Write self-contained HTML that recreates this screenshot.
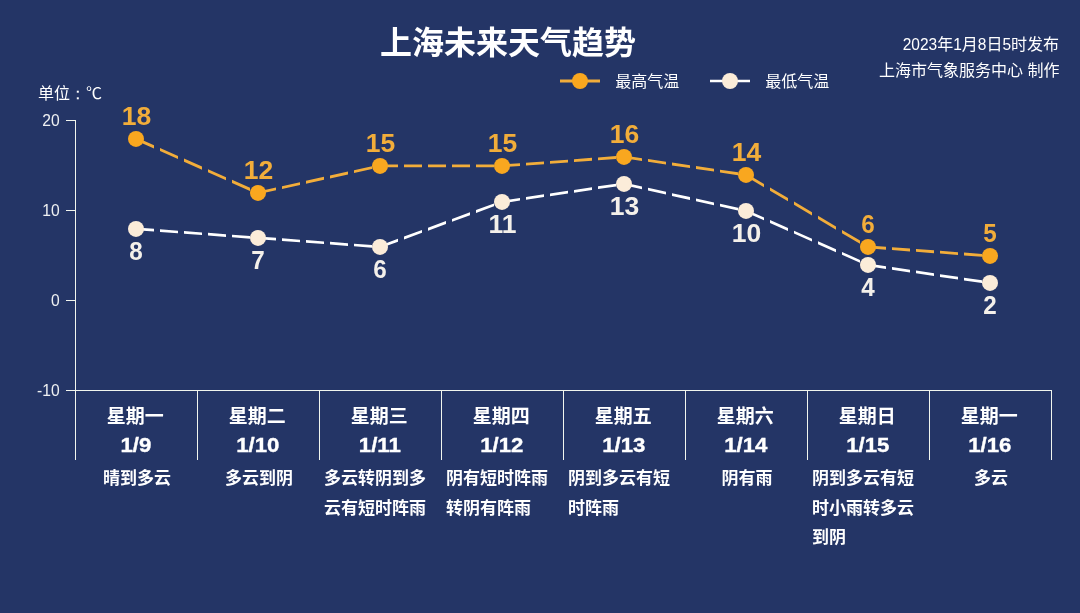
<!DOCTYPE html>
<html lang="zh-CN">
<head>
<meta charset="utf-8">
<title>上海未来天气趋势</title>
<style>
html,body{margin:0;padding:0;background:#243566;}
body{width:1080px;height:613px;overflow:hidden;font-family:"Liberation Sans",sans-serif;}
svg{display:block;will-change:transform;}
svg text{font-family:"Liberation Sans","Noto Sans CJK SC",sans-serif;}
</style>
</head>
<body>
<svg width="1080" height="613" viewBox="0 0 1080 613">
<rect width="1080" height="613" fill="#243566"/>
<g stroke="#f1f5ee" stroke-width="1" fill="none" shape-rendering="crispEdges">
<line x1="75.5" y1="120" x2="75.5" y2="460"/>
<line x1="66" y1="120.5" x2="76.0" y2="120.5"/>
<line x1="66" y1="210.5" x2="76.0" y2="210.5"/>
<line x1="66" y1="300.5" x2="76.0" y2="300.5"/>
<line x1="66" y1="390.5" x2="1052" y2="390.5"/>
<line x1="197.5" y1="390.5" x2="197.5" y2="460"/>
<line x1="319.5" y1="390.5" x2="319.5" y2="460"/>
<line x1="441.5" y1="390.5" x2="441.5" y2="460"/>
<line x1="563.5" y1="390.5" x2="563.5" y2="460"/>
<line x1="685.5" y1="390.5" x2="685.5" y2="460"/>
<line x1="807.5" y1="390.5" x2="807.5" y2="460"/>
<line x1="929.5" y1="390.5" x2="929.5" y2="460"/>
<line x1="1051.5" y1="390.5" x2="1051.5" y2="460"/>
</g>
<text transform="translate(59.60 126.10) scale(0.95 1)" font-size="16.5" fill="#eef0f2" text-anchor="end" font-weight="normal">20</text>
<text transform="translate(59.60 216.10) scale(0.95 1)" font-size="16.5" fill="#eef0f2" text-anchor="end" font-weight="normal">10</text>
<text transform="translate(59.60 306.10) scale(0.95 1)" font-size="16.5" fill="#eef0f2" text-anchor="end" font-weight="normal">0</text>
<text transform="translate(59.60 396.10) scale(0.95 1)" font-size="16.5" fill="#eef0f2" text-anchor="end" font-weight="normal">-10</text>
<path fill="#ffffff" d="M136.0 227.55L154.0 228.87L154.0 231.58L136.0 230.25ZM160.0 229.32L178.0 230.64L178.0 233.35L160.0 232.02ZM184.0 231.09L202.0 232.42L202.0 235.12L184.0 233.79ZM208.0 232.86L226.0 234.19L226.0 236.89L208.0 235.57ZM232.0 234.63L250.0 235.96L250.0 238.66L232.0 237.34ZM256.0 236.40L258.0 236.55L258.0 239.25L256.0 239.11ZM258.0 236.55L276.0 237.87L276.0 240.58L258.0 239.25ZM282.0 238.32L300.0 239.64L300.0 242.35L282.0 241.02ZM306.0 240.09L324.0 241.42L324.0 244.12L306.0 242.79ZM330.0 241.86L348.0 243.19L348.0 245.89L330.0 244.57ZM354.0 243.63L372.0 244.96L372.0 247.66L354.0 246.34ZM378.0 245.40L380.0 245.55L380.0 248.25L378.0 248.11ZM380.0 245.46L398.0 238.82L398.0 241.70L380.0 248.34ZM404.0 236.61L422.0 229.97L422.0 232.85L404.0 239.49ZM428.0 227.76L446.0 221.12L446.0 223.99L428.0 230.63ZM452.0 218.90L470.0 212.26L470.0 215.14L452.0 221.78ZM476.0 210.05L494.0 203.41L494.0 206.29L476.0 212.93ZM500.0 201.20L502.0 200.46L502.0 203.34L500.0 204.08ZM502.0 200.54L520.0 197.88L520.0 200.61L502.0 203.26ZM526.0 196.99L544.0 194.34L544.0 197.07L526.0 199.72ZM550.0 193.45L568.0 190.80L568.0 193.53L550.0 196.18ZM574.0 189.91L592.0 187.26L592.0 189.99L574.0 192.64ZM598.0 186.37L616.0 183.72L616.0 186.44L598.0 189.10ZM622.0 182.83L624.0 182.54L624.0 185.26L622.0 185.56ZM624.0 182.52L642.0 186.50L642.0 189.27L624.0 185.28ZM648.0 187.83L666.0 191.81L666.0 194.58L648.0 190.59ZM672.0 193.14L690.0 197.12L690.0 199.89L672.0 195.91ZM696.0 198.45L714.0 202.44L714.0 205.20L696.0 201.22ZM720.0 203.76L738.0 207.75L738.0 210.51L720.0 206.53ZM744.0 209.07L746.0 209.52L746.0 212.28L744.0 211.84ZM746.0 209.42L764.0 217.39L764.0 220.34L746.0 212.38ZM770.0 220.05L788.0 228.01L788.0 230.97L770.0 223.00ZM794.0 230.67L812.0 238.64L812.0 241.59L794.0 233.62ZM818.0 241.29L836.0 249.26L836.0 252.21L818.0 244.25ZM842.0 251.92L860.0 259.88L860.0 262.84L842.0 254.87ZM866.0 262.54L868.0 263.42L868.0 266.38L866.0 265.49ZM868.0 263.54L886.0 266.19L886.0 268.92L868.0 266.26ZM892.0 267.08L910.0 269.73L910.0 272.46L892.0 269.81ZM916.0 270.62L934.0 273.27L934.0 276.00L916.0 273.35ZM940.0 274.16L958.0 276.81L958.0 279.54L940.0 276.89ZM964.0 277.70L982.0 280.36L982.0 283.08L964.0 280.43ZM988.0 281.24L990.0 281.54L990.0 284.26L988.0 283.97Z"/>
<path fill="#f2ad3a" d="M136.0 137.37L154.0 145.34L154.0 148.40L136.0 140.43ZM160.0 147.99L178.0 155.96L178.0 159.02L160.0 151.05ZM184.0 158.61L202.0 166.58L202.0 169.64L184.0 161.68ZM208.0 169.24L226.0 177.21L226.0 180.27L208.0 172.30ZM232.0 179.86L250.0 187.83L250.0 190.89L232.0 182.92ZM256.0 190.48L258.0 191.37L258.0 194.43L256.0 193.55ZM258.0 191.47L276.0 187.48L276.0 190.35L258.0 194.33ZM282.0 186.15L300.0 182.17L300.0 185.04L282.0 189.02ZM306.0 180.84L324.0 176.86L324.0 179.73L306.0 183.71ZM330.0 175.53L348.0 171.55L348.0 174.42L330.0 178.40ZM354.0 170.22L372.0 166.24L372.0 169.10L354.0 173.09ZM378.0 164.91L380.0 164.47L380.0 167.33L378.0 167.78ZM380.0 164.50L398.0 164.50L398.0 167.30L380.0 167.30ZM404.0 164.50L422.0 164.50L422.0 167.30L404.0 167.30ZM428.0 164.50L446.0 164.50L446.0 167.30L428.0 167.30ZM452.0 164.50L470.0 164.50L470.0 167.30L452.0 167.30ZM476.0 164.50L494.0 164.50L494.0 167.30L476.0 167.30ZM500.0 164.50L502.0 164.50L502.0 167.30L500.0 167.30ZM502.0 164.50L520.0 163.17L520.0 165.98L502.0 167.30ZM526.0 162.73L544.0 161.40L544.0 164.21L526.0 165.53ZM550.0 160.96L568.0 159.63L568.0 162.43L550.0 163.76ZM574.0 159.18L592.0 157.86L592.0 160.66L574.0 161.99ZM598.0 157.41L616.0 156.09L616.0 158.89L598.0 160.22ZM622.0 155.64L624.0 155.50L624.0 158.30L622.0 158.45ZM624.0 155.48L642.0 158.14L642.0 160.97L624.0 158.32ZM648.0 159.03L666.0 161.68L666.0 164.51L648.0 161.86ZM672.0 162.57L690.0 165.22L690.0 168.05L672.0 165.40ZM696.0 166.11L714.0 168.76L714.0 171.59L696.0 168.94ZM720.0 169.65L738.0 172.30L738.0 175.13L720.0 172.48ZM744.0 173.19L746.0 173.48L746.0 176.32L744.0 176.02ZM746.0 173.27L764.0 183.90L764.0 187.15L746.0 176.53ZM770.0 187.44L788.0 198.06L788.0 201.31L770.0 190.69ZM794.0 201.60L812.0 212.23L812.0 215.48L794.0 204.85ZM818.0 215.77L836.0 226.39L836.0 229.64L818.0 219.02ZM842.0 229.93L860.0 240.55L860.0 243.80L842.0 233.18ZM866.0 244.09L868.0 245.27L868.0 248.53L866.0 247.35ZM868.0 245.50L886.0 246.82L886.0 249.63L868.0 248.30ZM892.0 247.27L910.0 248.59L910.0 251.40L892.0 250.07ZM916.0 249.04L934.0 250.37L934.0 253.17L916.0 251.84ZM940.0 250.81L958.0 252.14L958.0 254.94L940.0 253.62ZM964.0 252.58L982.0 253.91L982.0 256.71L964.0 255.39ZM988.0 254.35L990.0 254.50L990.0 257.30L988.0 257.16Z"/>
<g fill="#fbecd9"><circle cx="136.0" cy="228.89999999999998" r="8"/><circle cx="258.0" cy="237.89999999999998" r="8"/><circle cx="380.0" cy="246.89999999999998" r="8"/><circle cx="502.0" cy="201.89999999999998" r="8"/><circle cx="624.0" cy="183.89999999999998" r="8"/><circle cx="746.0" cy="210.89999999999998" r="8"/><circle cx="868.0" cy="264.9" r="8"/><circle cx="990.0" cy="282.9" r="8"/></g>
<g fill="#f9a71f"><circle cx="136.0" cy="138.89999999999998" r="8"/><circle cx="258.0" cy="192.89999999999998" r="8"/><circle cx="380.0" cy="165.89999999999998" r="8"/><circle cx="502.0" cy="165.89999999999998" r="8"/><circle cx="624.0" cy="156.89999999999998" r="8"/><circle cx="746.0" cy="174.89999999999998" r="8"/><circle cx="868.0" cy="246.89999999999998" r="8"/><circle cx="990.0" cy="255.89999999999998" r="8"/></g>
<text transform="translate(136.40 125.00) scale(1.06 1)" font-size="25" fill="#f2ad3a" text-anchor="middle" font-weight="bold">18</text>
<text transform="translate(258.40 179.00) scale(1.06 1)" font-size="25" fill="#f2ad3a" text-anchor="middle" font-weight="bold">12</text>
<text transform="translate(380.40 152.00) scale(1.06 1)" font-size="25" fill="#f2ad3a" text-anchor="middle" font-weight="bold">15</text>
<text transform="translate(502.40 152.00) scale(1.06 1)" font-size="25" fill="#f2ad3a" text-anchor="middle" font-weight="bold">15</text>
<text transform="translate(624.40 143.00) scale(1.06 1)" font-size="25" fill="#f2ad3a" text-anchor="middle" font-weight="bold">16</text>
<text transform="translate(746.40 161.00) scale(1.06 1)" font-size="25" fill="#f2ad3a" text-anchor="middle" font-weight="bold">14</text>
<text transform="translate(868.00 233.00) scale(0.97 1)" font-size="25" fill="#f2ad3a" text-anchor="middle" font-weight="bold">6</text>
<text transform="translate(990.00 242.00) scale(0.97 1)" font-size="25" fill="#f2ad3a" text-anchor="middle" font-weight="bold">5</text>
<text transform="translate(136.00 260.00) scale(0.97 1)" font-size="25" fill="#f4f0ea" text-anchor="middle" font-weight="bold">8</text>
<text transform="translate(258.00 269.00) scale(0.97 1)" font-size="25" fill="#f4f0ea" text-anchor="middle" font-weight="bold">7</text>
<text transform="translate(380.00 278.00) scale(0.97 1)" font-size="25" fill="#f4f0ea" text-anchor="middle" font-weight="bold">6</text>
<text transform="translate(502.40 233.00) scale(1.06 1)" font-size="25" fill="#f4f0ea" text-anchor="middle" font-weight="bold">11</text>
<text transform="translate(624.40 215.00) scale(1.06 1)" font-size="25" fill="#f4f0ea" text-anchor="middle" font-weight="bold">13</text>
<text transform="translate(746.40 242.00) scale(1.06 1)" font-size="25" fill="#f4f0ea" text-anchor="middle" font-weight="bold">10</text>
<text transform="translate(868.00 296.00) scale(0.97 1)" font-size="25" fill="#f4f0ea" text-anchor="middle" font-weight="bold">4</text>
<text transform="translate(990.00 314.00) scale(0.97 1)" font-size="25" fill="#f4f0ea" text-anchor="middle" font-weight="bold">2</text>
<text x="508" y="53.7" font-size="32" fill="#fff" text-anchor="middle" font-weight="bold">上海未来天气趋势</text>
<line x1="560" y1="81" x2="600" y2="81" stroke="#f2ad3a" stroke-width="2.8"/><circle cx="580" cy="81" r="8" fill="#f9a71f"/>
<line x1="710" y1="81" x2="750" y2="81" stroke="#ffffff" stroke-width="2.7"/><circle cx="730" cy="81" r="8" fill="#fbecd9"/>
<text x="615.3" y="87.1" font-size="16" fill="#fff" text-anchor="start">最高气温</text>
<text x="765.3" y="87.1" font-size="16" fill="#fff" text-anchor="start">最低气温</text>
<text transform="translate(902.66 50.10) scale(0.94 1)" font-size="16.5" fill="#fff" text-anchor="start" font-weight="normal">2023</text>
<text x="937.14" y="50.1" font-size="16" fill="#fff" text-anchor="start">年</text>
<text transform="translate(953.14 50.10) scale(0.94 1)" font-size="16.5" fill="#fff" text-anchor="start" font-weight="normal">1</text>
<text x="961.76" y="50.1" font-size="16" fill="#fff" text-anchor="start">月</text>
<text transform="translate(977.76 50.10) scale(0.94 1)" font-size="16.5" fill="#fff" text-anchor="start" font-weight="normal">8</text>
<text x="986.38" y="50.1" font-size="16" fill="#fff" text-anchor="start">日</text>
<text transform="translate(1002.38 50.10) scale(0.94 1)" font-size="16.5" fill="#fff" text-anchor="start" font-weight="normal">5</text>
<text x="1011" y="50.1" font-size="16" fill="#fff" text-anchor="start">时发布</text>
<text x="1027.5" y="75.6" font-size="16" fill="#fff" text-anchor="start">制作</text>
<text x="878.9" y="75.6" font-size="16" fill="#fff" text-anchor="start">上海市气象服务中心</text>
<text x="38" y="99.4" font-size="16" fill="#fff" text-anchor="start">单位</text>
<rect x="76.8" y="90.7" width="2" height="2" fill="#fff"/><rect x="76.8" y="97.3" width="2" height="2" fill="#fff"/>
<text x="86" y="99.4" font-size="16" fill="#fff" text-anchor="start">℃</text>
<text x="135.3" y="423.4" font-size="19" fill="#fff" text-anchor="middle" font-weight="bold">星期一</text>
<text transform="translate(135.80 452.30) scale(1.11 1)" font-size="20" fill="#fff" stroke="#fff" stroke-width="0.35" text-anchor="middle" font-weight="bold">1/9</text>
<text x="103.05" y="484.05" font-size="17" fill="#fff" text-anchor="start" font-weight="bold">晴到多云</text>
<text x="257.3" y="423.4" font-size="19" fill="#fff" text-anchor="middle" font-weight="bold">星期二</text>
<text transform="translate(257.80 452.30) scale(1.11 1)" font-size="20" fill="#fff" stroke="#fff" stroke-width="0.35" text-anchor="middle" font-weight="bold">1/10</text>
<text x="225.05" y="484.05" font-size="17" fill="#fff" text-anchor="start" font-weight="bold">多云到阴</text>
<text x="379.3" y="423.4" font-size="19" fill="#fff" text-anchor="middle" font-weight="bold">星期三</text>
<text transform="translate(379.80 452.30) scale(1.11 1)" font-size="20" fill="#fff" stroke="#fff" stroke-width="0.35" text-anchor="middle" font-weight="bold">1/11</text>
<text x="323.94" y="484.05" font-size="17" fill="#fff" text-anchor="start" font-weight="bold">多云转阴到多</text>
<text x="323.94" y="513.55" font-size="17" fill="#fff" text-anchor="start" font-weight="bold">云有短时阵雨</text>
<text x="501.3" y="423.4" font-size="19" fill="#fff" text-anchor="middle" font-weight="bold">星期四</text>
<text transform="translate(501.80 452.30) scale(1.11 1)" font-size="20" fill="#fff" stroke="#fff" stroke-width="0.35" text-anchor="middle" font-weight="bold">1/12</text>
<text x="445.94" y="484.05" font-size="17" fill="#fff" text-anchor="start" font-weight="bold">阴有短时阵雨</text>
<text x="445.94" y="513.55" font-size="17" fill="#fff" text-anchor="start" font-weight="bold">转阴有阵雨</text>
<text x="623.3" y="423.4" font-size="19" fill="#fff" text-anchor="middle" font-weight="bold">星期五</text>
<text transform="translate(623.80 452.30) scale(1.11 1)" font-size="20" fill="#fff" stroke="#fff" stroke-width="0.35" text-anchor="middle" font-weight="bold">1/13</text>
<text x="567.95" y="484.05" font-size="17" fill="#fff" text-anchor="start" font-weight="bold">阴到多云有短</text>
<text x="567.95" y="513.55" font-size="17" fill="#fff" text-anchor="start" font-weight="bold">时阵雨</text>
<text x="745.3" y="423.4" font-size="19" fill="#fff" text-anchor="middle" font-weight="bold">星期六</text>
<text transform="translate(745.80 452.30) scale(1.11 1)" font-size="20" fill="#fff" stroke="#fff" stroke-width="0.35" text-anchor="middle" font-weight="bold">1/14</text>
<text x="721.54" y="484.05" font-size="17" fill="#fff" text-anchor="start" font-weight="bold">阴有雨</text>
<text x="867.3" y="423.4" font-size="19" fill="#fff" text-anchor="middle" font-weight="bold">星期日</text>
<text transform="translate(867.80 452.30) scale(1.11 1)" font-size="20" fill="#fff" stroke="#fff" stroke-width="0.35" text-anchor="middle" font-weight="bold">1/15</text>
<text x="811.95" y="484.05" font-size="17" fill="#fff" text-anchor="start" font-weight="bold">阴到多云有短</text>
<text x="811.95" y="513.55" font-size="17" fill="#fff" text-anchor="start" font-weight="bold">时小雨转多云</text>
<text x="811.95" y="542.65" font-size="17" fill="#fff" text-anchor="start" font-weight="bold">到阴</text>
<text x="989.3" y="423.4" font-size="19" fill="#fff" text-anchor="middle" font-weight="bold">星期一</text>
<text transform="translate(989.80 452.30) scale(1.11 1)" font-size="20" fill="#fff" stroke="#fff" stroke-width="0.35" text-anchor="middle" font-weight="bold">1/16</text>
<text x="974.04" y="484.05" font-size="17" fill="#fff" text-anchor="start" font-weight="bold">多云</text>
</svg>
</body>
</html>
